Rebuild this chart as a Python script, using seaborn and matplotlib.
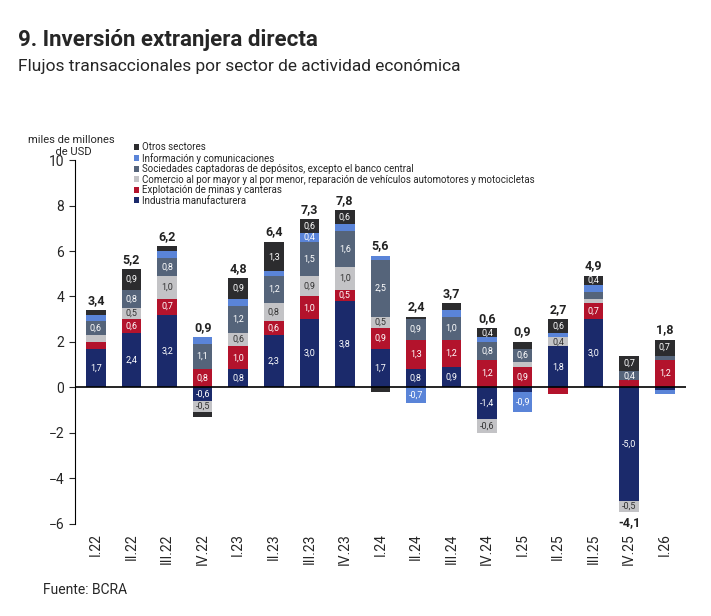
import numpy as np
import matplotlib
matplotlib.use("Agg")
import matplotlib.pyplot as plt
import seaborn as sns

quarters = ["I.22","II.22","III.22","IV.22","I.23","II.23","III.23","IV.23","I.24","II.24","III.24","IV.24","I.25","II.25","III.25","IV.25","I.26"]
industria = [1.7,2.4,3.2,-0.6,0.8,2.3,3.0,3.8,1.7,0.8,0.9,-1.4,-0.2,1.8,3.0,-5.0,-0.1]
minas     = [0.3,0.6,0.7,0.8,1.0,0.6,1.0,0.5,0.9,1.3,1.2,1.2,0.9,-0.3,0.7,0.3,1.2]
comercio  = [0.3,0.5,1.0,-0.5,0.6,0.8,0.9,1.0,0.5,0.0,0.0,-0.6,0.2,0.4,0.2,-0.5,0.0]
sociedades= [0.6,0.8,0.8,1.1,1.2,1.2,1.5,1.6,2.5,0.9,1.0,0.8,0.6,0.0,0.3,0.4,0.2]
informacion=[0.3,0.0,0.3,0.3,0.3,0.2,0.4,0.3,0.2,-0.7,0.3,0.2,-0.9,0.2,0.3,0.0,-0.2]
otros     = [0.2,0.9,0.2,-0.2,0.9,1.3,0.6,0.6,-0.2,0.1,0.3,0.4,0.3,0.6,0.4,0.7,0.7]
totales   = [3.4,5.2,6.2,0.9,4.8,6.4,7.3,7.8,5.6,2.4,3.7,0.6,0.9,2.7,4.9,-4.1,1.8]

series = [
    ("Industria manufacturera", industria, "#1b2a6b"),
    ("Explotación de minas y canteras", minas, "#b3132c"),
    ("Comercio al por mayor y al por menor, reparación de vehículos automotores y motocicletas", comercio, "#c3c3c6"),
    ("Sociedades captadoras de depósitos, excepto el banco central", sociedades, "#55647a"),
    ("Información y comunicaciones", informacion, "#5a84d8"),
    ("Otros sectores", otros, "#2c2c2e"),
]

sns.set_style("white")
plt.rcParams['font.family'] = ['Roboto', 'DejaVu Sans']
fig = plt.figure(figsize=(7.11, 6.16), dpi=100)
ax = fig.add_axes([0.105, 0.15, 0.86, 0.59])
x = np.arange(len(quarters))
pos = np.zeros(len(x)); neg = np.zeros(len(x))
handles = []
for name, vals, col in series:
    v = np.array(vals)
    bottoms = np.where(v >= 0, pos, neg)
    b = ax.bar(x, v, bottom=bottoms, width=0.55, color=col, label=name, edgecolor="none")
    handles.append(b)
    for i, val in enumerate(v):
        if abs(val) >= 0.4:
            tc = "#333333" if col == "#c3c3c6" else "white"
            ax.text(x[i], bottoms[i] + val / 2, f"{val:.1f}".replace(".", ","),
                    ha="center", va="center", fontsize=6.5, color=tc)
    pos = np.where(v >= 0, pos + v, pos)
    neg = np.where(v < 0, neg + v, neg)
for i, t in enumerate(totales):
    y = pos[i] + 0.15 if t >= 0 else neg[i] - 0.15
    ax.text(x[i], y, f"{t:.1f}".replace(".", ","), ha="center",
            va="bottom" if t >= 0 else "top", fontsize=9, fontweight="bold", color="#222222")

ax.axhline(0, color="black", lw=1.2)
ax.set_ylim(-6, 10)
ax.set_yticks(range(-6, 11, 2))
ax.set_xlim(-0.6, len(x) - 0.4)
ax.set_xticks(x)
ax.set_xticklabels(quarters, rotation=90, fontsize=10)
ax.tick_params(axis="y", labelsize=10, left=True, length=4)
ax.tick_params(axis="x", bottom=False)
for s in ["top", "right", "bottom"]:
    ax.spines[s].set_visible(False)
ax.spines["left"].set_color("black")
ax.grid(False)

leg = ax.legend(handles[::-1], [s[0] for s in series][::-1], loc="upper left",
                bbox_to_anchor=(0.09, 1.06), fontsize=7, frameon=False,
                handlelength=0.6, handleheight=0.6, handletextpad=0.3,
                labelspacing=0.05, borderaxespad=0)

fig.text(0.025, 0.925, "9. Inversión extranjera directa", fontsize=16, fontweight="bold")
fig.text(0.025, 0.885, "Flujos transaccionales por sector de actividad económica", fontsize=12.5)
fig.text(0.04, 0.745, "miles de millones\n          de USD", fontsize=8, va="bottom", linespacing=1.3)
fig.text(0.06, 0.035, "Fuente: BCRA", fontsize=10)
fig.savefig("out.png", dpi=100)
